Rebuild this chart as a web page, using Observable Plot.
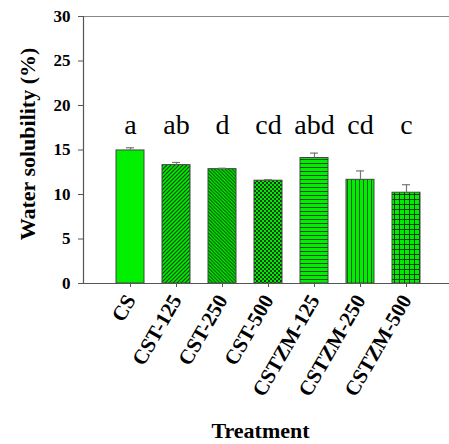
<!DOCTYPE html>
<html><head><meta charset="utf-8">
<script src="https://cdn.jsdelivr.net/npm/d3@7"></script>
<script src="https://cdn.jsdelivr.net/npm/@observablehq/plot@0.6"></script>
<style>body{margin:0;background:#fff}</style>
</head><body><div id="chart"></div>
<script>
const categories = ["CS","CST-125","CST-250","CST-500","CSTZM-125","CSTZM-250","CSTZM-500"];
const solubility = [14.95,13.3,12.85,11.55,14.1,11.65,10.2];
const stdErr = [0.3,0.3,0.1,0.12,0.55,1.0,0.9];
const letters = ["a","ab","d","cd","abd","cd","c"];
const yTicks = [0,5,10,15,20,25,30];

// styles (not data)
const fills = ["#00f000","url(#p1)","url(#p2)","url(#p3)","url(#p4)","url(#p5)","url(#p6)"];

const data = categories.map((c,i)=>({cat:c, v:solubility[i], e:stdErr[i], letter:letters[i], fill:fills[i]}));

const serif = "'Liberation Serif','Times New Roman',serif";
const chart = Plot.plot({
  width:449, height:444, marginLeft:83, marginRight:0, marginTop:16, marginBottom:161,
  style:{fontFamily:serif, background:"#fff", overflow:"visible", color:"#000"},
  x:{type:"band", domain:categories, range:[83,453], paddingInner:0.395, paddingOuter:0.703, align:0.5},
  y:{domain:[0,30]},
  color:{type:"identity"},
  marks:[
    Plot.barY(data,{x:"cat", y:"v", fill:"fill", stroke:"#444", strokeWidth:1}),
    Plot.ruleX(data,{x:"cat", y1:"v", y2:d=>d.v+d.e, stroke:"#777", strokeWidth:1.2}),
    Plot.tickY(data,{x:"cat", y:d=>d.v+d.e, stroke:"#777", strokeWidth:1.2, insetLeft:10, insetRight:10}),
    Plot.text(data,{x:"cat", text:"letter", frameAnchor:"top", lineAnchor:"bottom", dy:117, fontSize:28, fontFamily:serif}),
    Plot.ruleY([0],{stroke:"#555", strokeWidth:1.2}),
    Plot.ruleY([30],{stroke:"#888", strokeWidth:1.2}),
    Plot.frame({anchor:"left", stroke:"#555", strokeWidth:1.2}),
    Plot.axisY({ticks:yTicks, tickSize:5, tickPadding:8, fontSize:17, fontWeight:"bold", fontFamily:serif, label:null, stroke:"#555"}),
    Plot.axisX({tickSize:4, tickPadding:9, tickRotate:-60, fontSize:21, fontWeight:"bold", fontFamily:serif, label:null, stroke:"#555"}),
    Plot.text(["Water solubility (%)"],{frameAnchor:"left", textAnchor:"middle", lineAnchor:"middle", rotate:-90, dx:-56, dy:-6, fontSize:22, fontWeight:"bold", fontFamily:serif}),
    Plot.text(["Treatment"],{frameAnchor:"bottom", textAnchor:"middle", lineAnchor:"bottom", dx:-6, dy:154, fontSize:22, fontWeight:"bold", fontFamily:serif})
  ]
});

const G = "#00ee00", D = "#0d3d0d";
d3.select(chart).insert("defs", ":first-child").html(`
<pattern id="p1" width="4" height="4" patternUnits="userSpaceOnUse"><rect width="4" height="4" fill="${G}"/><path d="M-1,1 l2,-2 M0,4 l4,-4 M3,5 l2,-2" stroke="${D}" stroke-width="1.1"/></pattern>
<pattern id="p2" width="3.5" height="3.5" patternUnits="userSpaceOnUse"><rect width="3.5" height="3.5" fill="${G}"/><path d="M-1,2.5 l2,2 M0,0 l3.5,3.5 M2.5,-1 l2,2" stroke="${D}" stroke-width="1"/></pattern>
<pattern id="p3" width="4" height="4" patternUnits="userSpaceOnUse"><rect width="4" height="4" fill="${G}"/><rect width="2" height="2" fill="${D}"/><rect x="2" y="2" width="2" height="2" fill="${D}"/></pattern>
<pattern id="p4" width="4" height="4" patternUnits="userSpaceOnUse"><rect width="4" height="4" fill="${G}"/><rect y="3" width="4" height="1.3" fill="#124a12"/></pattern>
<pattern id="p5" width="4" height="4" patternUnits="userSpaceOnUse"><rect width="4" height="4" fill="${G}"/><rect x="3" width="1.2" height="4" fill="#1a5a1a"/></pattern>
<pattern id="p6" width="5" height="5" patternUnits="userSpaceOnUse"><rect width="5" height="5" fill="${G}"/><rect x="4" width="1.2" height="5" fill="${D}"/><rect y="4" width="5" height="1.2" fill="${D}"/></pattern>
`);
document.getElementById("chart").append(chart);
</script>
</body></html>
